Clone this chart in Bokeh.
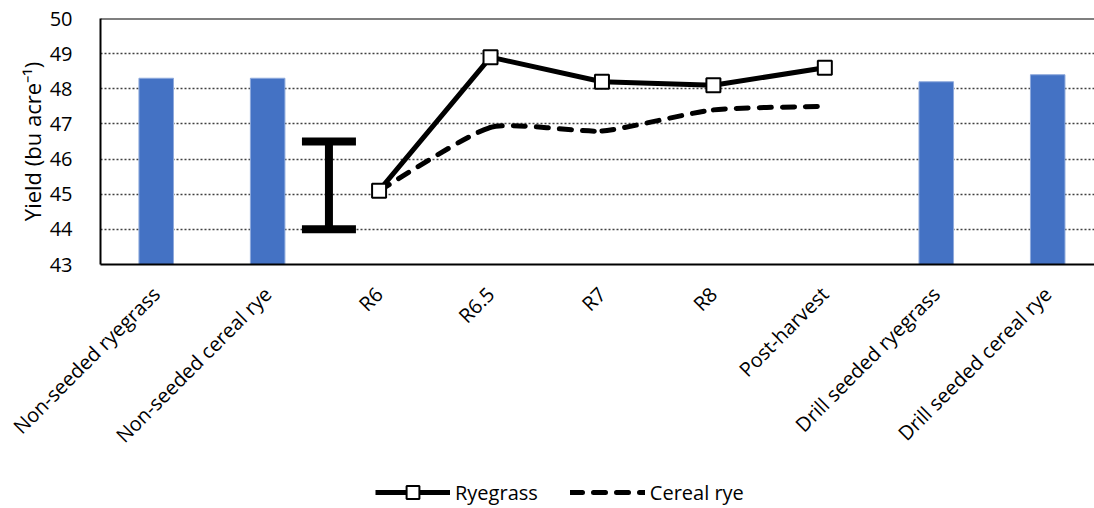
import numpy as np
from math import pi
from bokeh.plotting import figure
from bokeh.layouts import column
from bokeh.models import (Range1d, FixedTicker, Legend, LegendItem, Whisker,
                          TeeHead, ColumnDataSource, Span)
from bokeh.embed import file_html
from bokeh.resources import INLINE

# ---- data ----
categories = ["Non-seeded ryegrass", "Non-seeded cereal rye", "R6", "R6.5", "R7",
              "R8", "Post-harvest", "Drill seeded ryegrass", "Drill seeded cereal rye"]
bar_categories = ["Non-seeded ryegrass", "Non-seeded cereal rye",
                  "Drill seeded ryegrass", "Drill seeded cereal rye"]
bar_values = [48.3, 48.3, 48.2, 48.4]
timing_categories = ["R6", "R6.5", "R7", "R8", "Post-harvest"]
ryegrass = [45.1, 48.9, 48.2, 48.1, 48.6]
cereal_rye = [45.1, 46.9, 46.8, 47.4, 47.5]
lsd_low = 44.0
lsd_high = 46.5
y_ticks = [43, 44, 45, 46, 47, 48, 49, 50]
series_names = ["Ryegrass", "Cereal rye"]

FONT = "Open Sans"
idx = {c: i for i, c in enumerate(categories)}

p = figure(frame_width=994, frame_height=246,
           x_range=Range1d(-0.5, 8.42), y_range=Range1d(43, 50),
           output_backend="svg", toolbar_location=None,
           min_border_left=100, min_border_right=0, min_border_top=18,
           min_border_bottom=212, background_fill_color="white",
           border_fill_color="white")
p.outline_line_color = None

# bars
bx = [idx[c] for c in bar_categories]
p.vbar(x=bx, top=bar_values, bottom=43, width=0.31, fill_color="#4472C4",
       line_color="#8FAADC", line_width=1)

# LSD error bar
lsd_src = ColumnDataSource(dict(base=[idx["Non-seeded cereal rye"] + 0.55],
                                lower=[lsd_low], upper=[lsd_high]))
w = Whisker(source=lsd_src, base="base", lower="lower", upper="upper",
            dimension="height", line_width=8, line_color="black", line_cap="butt",
            upper_head=TeeHead(size=54, line_width=8, line_color="black"),
            lower_head=TeeHead(size=54, line_width=8, line_color="black"))
p.add_layout(w)

# cereal rye smoothed line (bezier segments through the data points)
tx = np.array([idx[c] for c in timing_categories], dtype=float)
cy = np.array(cereal_rye, dtype=float)
n = len(tx)
k = 0.1
x0s, y0s, x1s, y1s, cx0, cy0, cx1, cy1 = [], [], [], [], [], [], [], []
for i in range(n - 1):
    pm = max(i - 1, 0)
    pp = min(i + 2, n - 1)
    x0s.append(tx[i]); y0s.append(cy[i]); x1s.append(tx[i + 1]); y1s.append(cy[i + 1])
    cx0.append(tx[i] + (tx[i + 1] - tx[pm]) * k)
    cy0.append(cy[i] + (cy[i + 1] - cy[pm]) * k)
    cx1.append(tx[i + 1] - (tx[pp] - tx[i]) * k)
    cy1.append(cy[i + 1] - (cy[pp] - cy[i]) * k)
DASH = "12 11"
p.bezier(x0=x0s, y0=y0s, x1=x1s, y1=y1s, cx0=cx0, cy0=cy0, cx1=cx1, cy1=cy1,
         line_color="black", line_width=5, line_dash=DASH, line_cap="round")

# ryegrass line with square markers
p.line(tx, ryegrass, line_color="black", line_width=5)
p.scatter(tx, ryegrass, marker="square", size=14, fill_color="white",
          line_color="black", line_width=2)

# top border
p.add_layout(Span(location=50, dimension="width", line_color="black", line_width=2))

# axes
p.yaxis.ticker = FixedTicker(ticks=y_ticks)
p.yaxis.axis_label = "Yield (bu acre⁻¹)"
p.yaxis.axis_label_text_font = FONT
p.yaxis.axis_label_text_font_size = "22px"
p.yaxis.axis_label_text_font_style = "normal"
p.yaxis.axis_label_text_color = "black"
p.yaxis.axis_label_standoff = 0
p.yaxis.major_label_text_font = FONT
p.yaxis.major_label_text_font_size = "20px"
p.yaxis.major_label_text_color = "black"
p.yaxis.major_tick_line_color = None
p.yaxis.minor_tick_line_color = None
p.yaxis.major_label_standoff = 22
p.yaxis.axis_line_color = "black"
p.yaxis.axis_line_width = 2

p.xaxis.ticker = FixedTicker(ticks=list(range(len(categories))))
p.xaxis.major_label_overrides = {i: c for i, c in enumerate(categories)}
p.xaxis.major_label_orientation = pi / 4
p.xaxis.major_label_text_font = FONT
p.xaxis.major_label_text_font_size = "20px"
p.xaxis.major_label_text_color = "black"
p.xaxis.major_tick_line_color = None
p.xaxis.minor_tick_line_color = None
p.xaxis.major_label_standoff = 20
p.xaxis.axis_line_color = "black"
p.xaxis.axis_line_width = 2

p.xgrid.grid_line_color = None
p.ygrid.ticker = FixedTicker(ticks=y_ticks[1:-1])
p.ygrid.grid_line_color = "#404040"
p.ygrid.grid_line_dash = "2 2"
p.ygrid.grid_line_width = 1.5

# legend strip below the chart: the series are drawn again here but fall
# outside this strip's ranges, so only their legend keys are visible
lg = figure(width=1094, height=32, x_range=Range1d(0, 1), y_range=Range1d(0, 1),
            output_backend="svg", toolbar_location=None, min_border=0,
            x_axis_location=None, y_axis_location=None,
            background_fill_color="white", border_fill_color="white")
lg.outline_line_color = None
lg.grid.grid_line_color = None
kl = lg.line(tx, ryegrass, line_color="black", line_width=5)
ks = lg.scatter(tx, ryegrass, marker="square", size=14, fill_color="white",
                line_color="black", line_width=2)
kc = lg.line(tx, cereal_rye, line_color="black", line_width=5, line_dash=DASH,
             line_cap="round")
legend = Legend(items=[LegendItem(label=series_names[0], renderers=[kl, ks]),
                       LegendItem(label=series_names[1], renderers=[kc])],
                orientation="horizontal", location=(275, 0),
                label_text_font=FONT, label_text_font_size="20px",
                label_text_color="black", glyph_width=75, glyph_height=32,
                label_standoff=5, spacing=32, border_line_color=None,
                background_fill_alpha=0, padding=0, margin=0)
lg.add_layout(legend)

open("out.html", "w").write(file_html(column(p, lg, spacing=0), INLINE))
